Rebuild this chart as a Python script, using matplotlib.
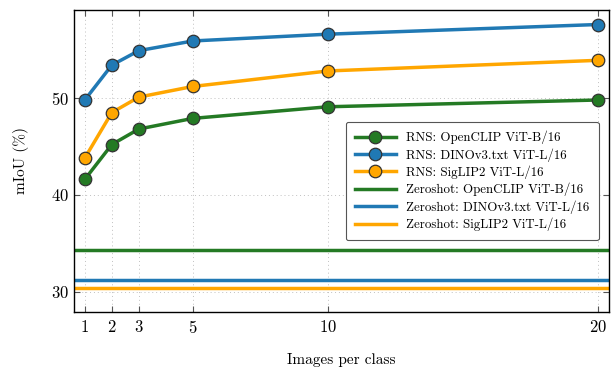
import numpy as np
import matplotlib.pyplot as plt

plt.rcParams['font.family'] = 'cmr10'
plt.rcParams['mathtext.fontset'] = 'cm'
plt.rcParams['axes.formatter.use_mathtext'] = True

"""Data"""
shots = [1, 2, 3, 5, 10, 20]
rns_openclip = [41.6, 45.2, 46.8, 47.9, 49.1, 49.8]
rns_dino = [49.8, 53.4, 54.9, 55.9, 56.6, 57.6]
rns_siglip = [43.8, 48.5, 50.1, 51.2, 52.8, 53.9]
zs_openclip = 34.3
zs_dino = 31.2
zs_siglip = 30.4

green = '#247a24'
blue = '#2079b4'
orange = '#ffa600'

fig = plt.figure(figsize=(6.13, 3.67), dpi=100)
ax = fig.add_axes([0.1207, 0.150, 0.8728, 0.8228])

mk = dict(marker='o', markersize=9, markeredgecolor='#333333', markeredgewidth=0.9, linewidth=2.5)
ax.plot(shots, rns_openclip, color=green, label='RNS: OpenCLIP ViT-B/16', zorder=4, **mk)
ax.plot(shots, rns_dino, color=blue, label='RNS: DINOv3.txt ViT-L/16', zorder=4, **mk)
ax.plot(shots, rns_siglip, color=orange, label='RNS: SigLIP2 ViT-L/16', zorder=4, **mk)
ax.axhline(zs_openclip, color=green, lw=2.5, label='Zeroshot: OpenCLIP ViT-B/16')
ax.axhline(zs_dino, color=blue, lw=2.5, label='Zeroshot: DINOv3.txt ViT-L/16')
ax.axhline(zs_siglip, color=orange, lw=2.5, label='Zeroshot: SigLIP2 ViT-L/16')

ax.set_xlim(0.6, 20.4)
ax.set_ylim(27.9, 59.1)
ax.set_xticks(shots)
ax.set_yticks([30, 40, 50])
ax.grid(True, linestyle=(0, (1, 3)), color='#c0c0c0', linewidth=0.7)
ax.tick_params(direction='in', top=True, right=True, labelsize=12, length=4, color='#555555')
ax.tick_params(axis='x', pad=5)
for s in ax.spines.values():
    s.set_linewidth(1.0)

ax.set_xlabel('Images per class', fontsize=11, labelpad=12)
ax.set_ylabel('mIoU (%)', fontsize=11, labelpad=16)

leg = ax.legend(loc='center', bbox_to_anchor=(0.744, 0.434), fontsize=9.3,
                fancybox=True, framealpha=1, edgecolor='#555555',
                handlelength=3.2, borderpad=0.7, labelspacing=0.3)
leg.get_frame().set_linewidth(0.8)

plt.savefig('out.png', dpi=100)
